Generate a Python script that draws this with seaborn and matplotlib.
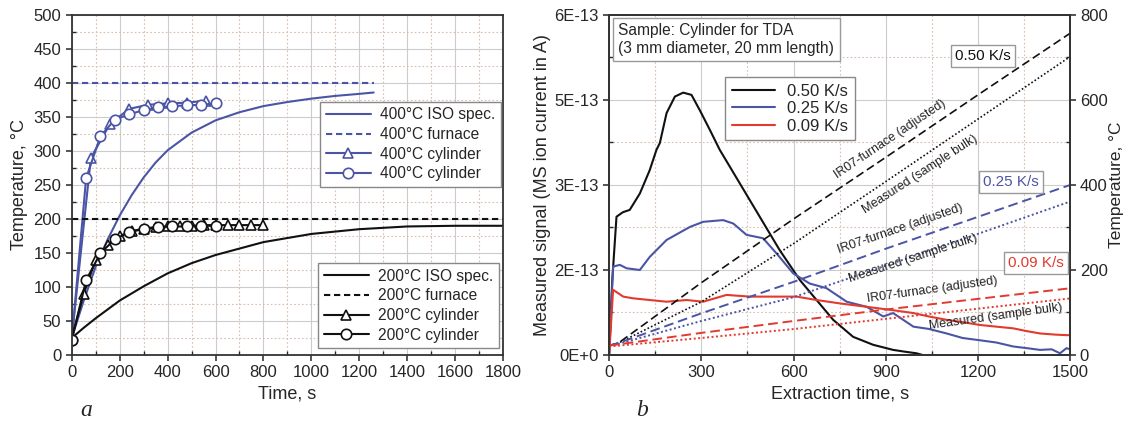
import matplotlib
matplotlib.use("Agg")
import matplotlib.pyplot as plt
from matplotlib.ticker import MultipleLocator, AutoMinorLocator, FixedLocator
import seaborn as sns

sns.set_style("ticks")
plt.rcParams['font.family'] = ['Liberation Sans', 'DejaVu Sans']

BLUE = '#4b55a5'
RED = '#e23a2e'
BLACK = '#111111'

# ---- panel a: heating curves ----
t_iso400 = [0, 50, 100, 150, 200, 250, 300, 350, 400, 500, 600, 700, 800, 900, 1000, 1100, 1200, 1260]
T_iso400 = [25, 80, 130, 170, 205, 235, 261, 283, 301, 327, 345, 357, 366, 372, 377, 381, 384, 386]
t_furn400 = [0, 1260]
T_furn400 = [400, 400]
t_tri400 = [0, 80, 160, 240, 320, 400, 480, 560]
T_tri400 = [25, 290, 340, 362, 368, 370, 371, 374]
t_circ400 = [0, 60, 120, 180, 240, 300, 360, 420, 480, 540, 600]
T_circ400 = [22, 260, 322, 346, 354, 360, 364, 366, 367, 368, 370]

t_iso200 = [0, 50, 100, 200, 300, 400, 500, 600, 800, 1000, 1200, 1400, 1600, 1800]
T_iso200 = [25, 40, 54, 80, 101, 120, 135, 147, 166, 178, 185, 189, 190, 190]
t_furn200 = [0, 1800]
T_furn200 = [200, 200]
t_tri200 = [0, 50, 100, 150, 200, 250, 300, 350, 400, 450, 500, 550, 600, 650, 700, 750, 800]
T_tri200 = [25, 90, 140, 162, 175, 182, 186, 188, 189, 190, 190, 191, 191, 191, 191, 191, 191]
t_circ200 = [0, 60, 120, 180, 240, 300, 360, 420, 480, 540, 600]
T_circ200 = [22, 110, 150, 170, 181, 185, 188, 189, 189, 190, 190]

# ---- panel b: TDA signals (units of 1E-13 A) ----
t_s050 = [0, 10, 24, 45, 67, 100, 132, 154, 165, 187, 214, 241, 268, 295, 328, 360,
          425, 490, 555, 621, 675, 729, 794, 859, 924, 960, 1000, 1020]
s_s050 = [0, 1.3, 2.44, 2.52, 2.56, 2.85, 3.26, 3.62, 3.74, 4.27, 4.56, 4.63, 4.59, 4.32, 3.97, 3.62,
          3.03, 2.44, 1.85, 1.32, 0.97, 0.62, 0.32, 0.18, 0.09, 0.06, 0.03, 0.0]
t_s025 = [0, 13, 35, 57, 100, 132, 187, 263, 306, 371, 404, 447, 501, 545, 599, 653, 707,
          773, 838, 892, 924, 990, 1040, 1098, 1150, 1206, 1260, 1315, 1360, 1402, 1440, 1467, 1488, 1500]
s_s025 = [0, 1.56, 1.59, 1.53, 1.5, 1.73, 2.03, 2.26, 2.35, 2.38, 2.32, 2.12, 2.06, 1.79, 1.44, 1.26, 1.18,
          0.94, 0.85, 0.68, 0.74, 0.5, 0.46, 0.38, 0.3, 0.26, 0.22, 0.15, 0.12, 0.09, 0.1, 0.03, 0.12, 0.1]
t_s009 = [0, 13, 46, 78, 132, 187, 252, 306, 382, 458, 534, 610, 675, 751, 838, 881, 924,
          990, 1040, 1098, 1150, 1206, 1260, 1315, 1360, 1402, 1450, 1488, 1500]
s_s009 = [0, 1.15, 1.03, 1.0, 0.97, 0.94, 0.97, 0.94, 1.06, 1.03, 1.03, 1.03, 0.97, 0.91, 0.85, 0.82, 0.79,
          0.74, 0.68, 0.62, 0.58, 0.53, 0.5, 0.47, 0.42, 0.38, 0.36, 0.35, 0.35]

# ---- panel b: temperatures (°C) ----
t_temp = [0, 30, 300, 600, 900, 1200, 1500]
T_furn050 = [22, 28, 170, 320, 465, 612, 757]
T_meas050 = [22, 28, 125, 262, 408, 555, 702]
T_furn025 = [22, 28, 98, 172, 250, 325, 400]
T_meas025 = [22, 26, 80, 136, 210, 285, 361]
T_furn009 = [22, 25, 52, 80, 107, 132, 157]
T_meas009 = [20, 22, 40, 61, 85, 109, 133]

sig_ticks = [0, 1.5e-13, 3e-13, 4.5e-13, 6e-13]
sig_labels = ['0E+0', '2E-13', '3E-13', '5E-13', '6E-13']

fig = plt.figure(figsize=(11.28, 4.22), dpi=100)
axa = fig.add_axes([0.0636, 0.1588, 0.3824, 0.8057])
axb = fig.add_axes([0.540, 0.1588, 0.4087, 0.8057])

mk = dict(markersize=7.5, markerfacecolor='white', markeredgewidth=1.2)

# panel a
sns.lineplot(x=t_iso400, y=T_iso400, ax=axa, color=BLUE, lw=1.5, label='400°C ISO spec.', legend=False, sort=False)
sns.lineplot(x=t_furn400, y=T_furn400, ax=axa, color=BLUE, lw=1.5, linestyle=(0, (3, 1.8)), label='400°C furnace', legend=False, sort=False)
sns.lineplot(x=t_tri400, y=T_tri400, ax=axa, color=BLUE, lw=1.5, marker='^', markeredgecolor=BLUE, label='400°C cylinder', legend=False, sort=False, **mk)
sns.lineplot(x=t_circ400, y=T_circ400, ax=axa, color=BLUE, lw=1.5, marker='o', markeredgecolor=BLUE, label='400°C cylinder', legend=False, sort=False, **mk)
sns.lineplot(x=t_iso200, y=T_iso200, ax=axa, color=BLACK, lw=1.5, label='200°C ISO spec.', legend=False, sort=False)
sns.lineplot(x=t_furn200, y=T_furn200, ax=axa, color=BLACK, lw=1.5, linestyle=(0, (3, 1.8)), label='200°C furnace', legend=False, sort=False)
sns.lineplot(x=t_tri200, y=T_tri200, ax=axa, color=BLACK, lw=1.5, marker='^', markeredgecolor=BLACK, label='200°C cylinder', legend=False, sort=False, **mk)
sns.lineplot(x=t_circ200, y=T_circ200, ax=axa, color=BLACK, lw=1.5, marker='o', markeredgecolor=BLACK, label='200°C cylinder', legend=False, sort=False, **mk)

axa.set_xlim(0, 1800)
axa.set_ylim(0, 500)
axa.xaxis.set_major_locator(MultipleLocator(200))
axa.yaxis.set_major_locator(MultipleLocator(50))
axa.set_xlabel('Time, s', fontsize=13)
axa.set_ylabel('Temperature, °C', fontsize=13)

h, l = axa.get_legend_handles_labels()
leg_kw = dict(fontsize=11.2, frameon=True, fancybox=False, framealpha=1, edgecolor='#888888',
              handlelength=2.9, handletextpad=0.6, labelspacing=0.3, borderaxespad=0, borderpad=0.35)
leg1 = axa.legend(h[:4], l[:4], loc='upper right', bbox_to_anchor=(0.995, 0.744), **leg_kw)
axa.add_artist(leg1)
axa.legend(h[4:], l[4:], loc='lower right', bbox_to_anchor=(0.99, 0.02), **leg_kw)

# panel b
axt = axb.twinx()
sns.lineplot(x=t_s050, y=[v * 1e-13 for v in s_s050], ax=axb, color=BLACK, lw=1.5, label='0.50 K/s', legend=False, sort=False)
sns.lineplot(x=t_s025, y=[v * 1e-13 for v in s_s025], ax=axb, color=BLUE, lw=1.5, label='0.25 K/s', legend=False, sort=False)
sns.lineplot(x=t_s009, y=[v * 1e-13 for v in s_s009], ax=axb, color=RED, lw=1.5, label='0.09 K/s', legend=False, sort=False)

dash = (0, (5, 2.5))
dot = (0, (1, 1.3))
sns.lineplot(x=t_temp, y=T_furn050, ax=axt, color=BLACK, lw=1.2, linestyle=dash, legend=False, sort=False)
sns.lineplot(x=t_temp, y=T_meas050, ax=axt, color=BLACK, lw=1.2, linestyle=dot, legend=False, sort=False)
sns.lineplot(x=t_temp, y=T_furn025, ax=axt, color=BLUE, lw=1.4, linestyle=dash, legend=False, sort=False)
sns.lineplot(x=t_temp, y=T_meas025, ax=axt, color=BLUE, lw=1.4, linestyle=dot, legend=False, sort=False)
sns.lineplot(x=t_temp, y=T_furn009, ax=axt, color=RED, lw=1.4, linestyle=dash, legend=False, sort=False)
sns.lineplot(x=t_temp, y=T_meas009, ax=axt, color=RED, lw=1.4, linestyle=dot, legend=False, sort=False)

axb.set_xlim(0, 1500)
axb.set_ylim(0, 6e-13)
axt.set_ylim(0, 800)
axb.xaxis.set_major_locator(MultipleLocator(300))
axb.yaxis.set_major_locator(FixedLocator(sig_ticks))
axb.set_yticklabels(sig_labels)
axt.yaxis.set_major_locator(MultipleLocator(200))
axb.set_xlabel('Extraction time, s', fontsize=13)
axb.set_ylabel('Measured signal (MS ion current in A)', fontsize=13, labelpad=2)
axt.set_ylabel('Temperature, °C', fontsize=12.5, labelpad=1)

h, l = axb.get_legend_handles_labels()
axb.legend(h, l, loc='upper left', bbox_to_anchor=(0.252, 0.818), fontsize=12, frameon=True, fancybox=False,
           framealpha=1, edgecolor='#888888', handlelength=2.6, handletextpad=0.7, labelspacing=0.15,
           borderaxespad=0, borderpad=0.4)

axb.text(0.02, 0.975, 'Sample: Cylinder for TDA\n(3 mm diameter, 20 mm length)', transform=axb.transAxes,
         ha='left', va='top', fontsize=11.2, linespacing=1.2,
         bbox=dict(boxstyle='square,pad=0.35', fc='white', ec='#999999', lw=1))

lbl_kw = dict(ha='center', va='center', fontsize=9, color='#222222', rotation_mode='anchor')
axt.text(915, 508, 'IR07-furnace (adjusted)', rotation=34, **lbl_kw)
axt.text(1012, 425, 'Measured (sample bulk)', rotation=33, **lbl_kw)
axt.text(946, 296, 'IR07-furnace (adjusted)', rotation=19, **lbl_kw)
axt.text(990, 228, 'Measured (sample bulk)', rotation=18, **lbl_kw)
axt.text(1053, 153, 'IR07-furnace (adjusted)', rotation=8, **lbl_kw)
axt.text(1258, 89, 'Measured (sample bulk)', rotation=8, **lbl_kw)

box = dict(boxstyle='square,pad=0.25', fc='white', ec='#999999', lw=1)
axt.text(1216, 704, '0.50 K/s', ha='center', va='center', fontsize=11, color=BLACK, bbox=box)
axt.text(1307, 407, '0.25 K/s', ha='center', va='center', fontsize=11, color=BLUE, bbox=box)
axt.text(1389, 216, '0.09 K/s', ha='center', va='center', fontsize=11, color=RED, bbox=box)

for ax in (axa, axb):
    ax.xaxis.set_minor_locator(AutoMinorLocator(2))
    ax.yaxis.set_minor_locator(AutoMinorLocator(2))
    ax.grid(which='major', color='#cccccc', lw=0.8, ls='-')
    ax.grid(which='minor', color='#d8bfb0', lw=0.8, ls=(0, (1.5, 2)))
    ax.set_axisbelow(True)
    for s in ax.spines.values():
        s.set_linewidth(1.3)
        s.set_color('#333333')
    ax.tick_params(which='major', direction='out', length=4, width=1.1, labelsize=12)
    ax.tick_params(which='minor', direction='in', length=3, width=1)

axt.yaxis.set_minor_locator(AutoMinorLocator(2))
axt.tick_params(which='major', direction='out', length=4, width=1.1, labelsize=12, pad=3)
axt.tick_params(which='minor', direction='in', length=3, width=1)
for s in axt.spines.values():
    s.set_linewidth(1.3)
    s.set_color('#333333')

fig.text(0.071, 0.015, 'a', fontsize=17, family='Liberation Serif', style='italic')
fig.text(0.564, 0.015, 'b', fontsize=17, family='Liberation Serif', style='italic')

fig.savefig('out.png', dpi=100)
